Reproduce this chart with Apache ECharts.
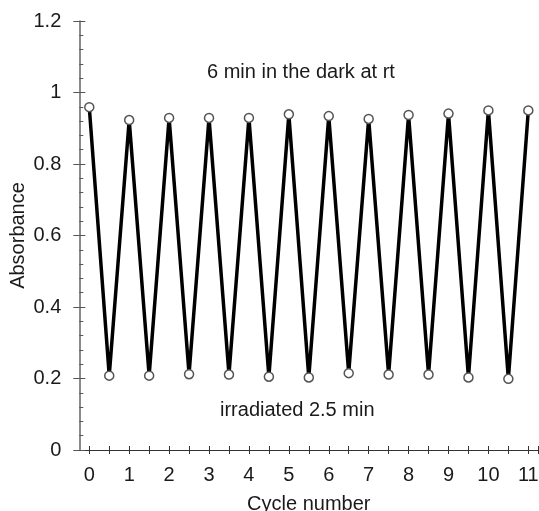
<!DOCTYPE html>
<html>
<head>
<meta charset="utf-8">
<script src="https://cdn.jsdelivr.net/npm/echarts@6/dist/echarts.min.js"></script>
<style>
html,body{margin:0;padding:0;background:#fff;}
#c{width:539px;height:511px;}
</style>
</head>
<body>
<div id="c"></div>
<script>
const cycleSteps = [0,0.5,1,1.5,2,2.5,3,3.5,4,4.5,5,5.5,6,6.5,7,7.5,8,8.5,9,9.5,10,10.5,11];
const absorbance = [0.959,0.208,0.923,0.208,0.929,0.212,0.929,0.211,0.929,0.205,0.939,0.203,0.934,0.215,0.926,0.211,0.937,0.211,0.941,0.203,0.950,0.199,0.950];
const xTickValues = [0,0.5,1,1.5,2,2.5,3,3.5,4,4.5,5,5.5,6,6.5,7,7.5,8,8.5,9,9.5,10,10.5,11,11.25];
const xLabelValues = [0,1,2,3,4,5,6,7,8,9,10,11];
const yTicks = [0,0.2,0.4,0.6,0.8,1,1.2];
const xName = 'Cycle number';
const yName = 'Absorbance';
const noteTop = '6 min in the dark at rt';
const noteBottom = 'irradiated 2.5 min';

const font = 'Liberation Sans, Arial, sans-serif';
const chart = echarts.init(document.getElementById('c'), null, {renderer:'canvas'});
const data = cycleSteps.map((x,i)=>[x,absorbance[i]]);
chart.setOption({
  animation:false,
  grid:{left:79.3, right:0.7, top:21, bottom:61, containLabel:false, outerBoundsMode:'none'},
  xAxis:[{
    type:'value', min:-0.25, max:11.25, position:'bottom',
    name:xName, nameLocation:'middle', nameGap:44,
    nameTextStyle:{fontFamily:font, fontSize:20, color:'#1a1a1a'},
    axisLine:{show:true, onZero:false, lineStyle:{color:'#333', width:1.2}},
    axisTick:{show:true, inside:false, length:4, customValues:xTickValues, lineStyle:{color:'#333', width:1}},
    axisLabel:{show:true, margin:15, customValues:xLabelValues, fontFamily:font, fontSize:20, color:'#1a1a1a'},
    splitLine:{show:false}
  },{
    type:'value', min:-0.25, max:11.25, position:'bottom',
    axisLine:{show:false, onZero:false},
    axisTick:{show:true, inside:true, length:4, customValues:xTickValues, lineStyle:{color:'#333', width:1}},
    axisLabel:{show:false},
    splitLine:{show:false}
  }],
  yAxis:[{
    type:'value', min:0, max:1.2, interval:0.2, position:'left',
    name:yName, nameLocation:'middle', nameGap:51, nameMoveOverlap:false,
    nameTextStyle:{fontFamily:font, fontSize:20, color:'#1a1a1a'},
    axisLine:{show:true, onZero:false, lineStyle:{color:'#777', width:1.7}},
    axisTick:{show:true, inside:false, length:6, lineStyle:{color:'#555', width:1}},
    axisLabel:{show:true, margin:18, fontFamily:font, fontSize:20, color:'#1a1a1a',
      formatter:function(v){ return yTicks.indexOf(Math.round(v*10)/10)>=0 ? String(Math.round(v*10)/10) : ''; }},
    splitLine:{show:false}
  },{
    type:'value', min:0, max:1.2, interval:0.2, position:'left', offset:0,
    axisLine:{show:false, onZero:false},
    axisTick:{show:true, inside:true, length:6, lineStyle:{color:'#555', width:1}},
    minorTick:{show:true, splitNumber:5, length:4, lineStyle:{color:'#555', width:1}},
    axisLabel:{show:false},
    splitLine:{show:false}
  }],
  graphic:[
    {type:'text', left:207, top:62, style:{text:noteTop, fontFamily:font, fontSize:20, fill:'#1a1a1a'}},
    {type:'text', left:220, top:400, style:{text:noteBottom, fontFamily:font, fontSize:20, fill:'#1a1a1a'}}
  ],
  series:[{
    type:'line', xAxisIndex:0, yAxisIndex:0, data:data,
    lineStyle:{color:'#000', width:3.5},
    symbol:'circle', symbolSize:9, showAllSymbol:true,
    itemStyle:{color:'#fff', borderColor:'#555', borderWidth:1.5},
    z:3
  }]
});
</script>
</body>
</html>
